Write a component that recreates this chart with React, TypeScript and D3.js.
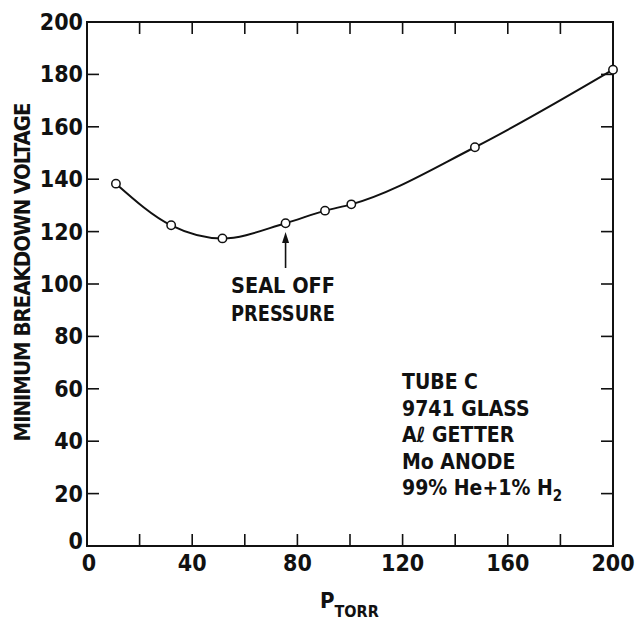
import React, { useRef, useEffect } from 'react';
import * as d3 from 'd3';

// breakdown voltage vs pressure (tube C)
const pressure = [11, 32, 51.5, 75.5, 90.5, 100.5, 147.5, 200];
const voltage = [138.3, 122.4, 117.4, 123.2, 128, 130.4, 152.2, 181.8];

const xTicks = d3.range(0, 201, 20);
const xLabels = [0, 40, 80, 120, 160, 200];
const yTicks = d3.range(0, 201, 20);

const noteLines = ['TUBE C', '9741 GLASS', 'Aℓ GETTER', 'Mo ANODE'];

const FONT = '"DejaVu Sans Condensed", "DejaVu Sans", sans-serif';

const App = () => {
  const svgRef = useRef<SVGSVGElement>(null);

  useEffect(() => {
    const svg = d3.select(svgRef.current);
    svg.selectAll('*').remove();

    const x = d3.scaleLinear().domain([0, 200]).range([87, 613]);
    const y = d3.scaleLinear().domain([0, 200]).range([546, 22]);

    // frame
    svg.append('rect')
      .attr('x', x(0)).attr('y', y(200))
      .attr('width', x(200) - x(0)).attr('height', y(0) - y(200))
      .attr('fill', 'none').attr('stroke', '#111').attr('stroke-width', 2);

    // inner ticks on all four sides
    const tk = 12;
    svg.append('g').selectAll('line.xb').data(xTicks.slice(1, -1)).join('line')
      .attr('x1', d => x(d)).attr('x2', d => x(d))
      .attr('y1', y(0)).attr('y2', y(0) - tk)
      .attr('stroke', '#111').attr('stroke-width', 1.6);
    svg.append('g').selectAll('line.xt').data(xTicks.slice(1, -1)).join('line')
      .attr('x1', d => x(d)).attr('x2', d => x(d))
      .attr('y1', y(200)).attr('y2', y(200) + tk)
      .attr('stroke', '#111').attr('stroke-width', 1.6);
    svg.append('g').selectAll('line.yl').data(yTicks.slice(1, -1)).join('line')
      .attr('x1', x(0)).attr('x2', x(0) + tk)
      .attr('y1', d => y(d)).attr('y2', d => y(d))
      .attr('stroke', '#111').attr('stroke-width', 1.6);
    svg.append('g').selectAll('line.yr').data(yTicks.slice(1, -1)).join('line')
      .attr('x1', x(200)).attr('x2', x(200) - tk)
      .attr('y1', d => y(d)).attr('y2', d => y(d))
      .attr('stroke', '#111').attr('stroke-width', 1.6);

    // tick labels
    svg.append('g').selectAll('text').data(xLabels).join('text')
      .attr('x', d => x(d) + (d === 0 ? 2 : 0)).attr('y', 571)
      .attr('text-anchor', 'middle')
      .attr('font-family', FONT).attr('font-weight', 'bold').attr('font-size', 23)
      .attr('fill', '#111')
      .text(d => d);
    svg.append('g').selectAll('text').data(yTicks).join('text')
      .attr('x', x(0) - 4).attr('y', d => y(d) + (d === 0 ? 3 : 8))
      .attr('text-anchor', 'end')
      .attr('font-family', FONT).attr('font-weight', 'bold').attr('font-size', 23)
      .attr('fill', '#111')
      .text(d => d);

    // curve
    const pts = pressure.map((p, i) => [p, voltage[i]] as [number, number]);
    const line = d3.line<[number, number]>()
      .x(d => x(d[0])).y(d => y(d[1]))
      .curve(d3.curveMonotoneX);
    svg.append('path').datum(pts)
      .attr('d', line)
      .attr('fill', 'none').attr('stroke', '#111').attr('stroke-width', 2);

    svg.append('g').selectAll('circle').data(pts).join('circle')
      .attr('cx', d => x(d[0])).attr('cy', d => y(d[1])).attr('r', 4.2)
      .attr('fill', '#fff').attr('stroke', '#111').attr('stroke-width', 1.5);

    // seal off arrow
    const ax = x(pressure[3]);
    svg.append('line')
      .attr('x1', ax).attr('x2', ax).attr('y1', 240).attr('y2', 268)
      .attr('stroke', '#111').attr('stroke-width', 1.6);
    svg.append('path')
      .attr('d', `M${ax},232 L${ax - 3.5},243 L${ax + 3.5},243 Z`)
      .attr('fill', '#111');

    const ann = svg.append('g')
      .attr('font-family', FONT).attr('font-weight', 'bold').attr('font-size', 21)
      .attr('fill', '#111');
    ann.append('text').attr('x', 231).attr('y', 293).attr('textLength', 104)
      .attr('lengthAdjust', 'spacingAndGlyphs').text('SEAL OFF');
    ann.append('text').attr('x', 231).attr('y', 321).attr('textLength', 104)
      .attr('lengthAdjust', 'spacingAndGlyphs').text('PRESSURE');

    // note block
    const note = svg.append('g')
      .attr('font-family', FONT).attr('font-weight', 'bold').attr('font-size', 21)
      .attr('fill', '#111');
    note.selectAll('text').data(noteLines).join('text')
      .attr('x', 402).attr('y', (_, i) => 389 + i * 26.6)
      .text(d => d);
    const last = note.append('text').attr('x', 402).attr('y', 495);
    last.append('tspan').text('99% He+1% H');
    last.append('tspan').attr('font-size', 15).attr('dy', 6).text('2');

    // axis titles
    svg.append('text')
      .attr('transform', 'translate(30,272) rotate(-90)')
      .attr('text-anchor', 'middle')
      .attr('font-family', FONT).attr('font-weight', 'bold').attr('font-size', 22)
      .attr('textLength', 339).attr('lengthAdjust', 'spacing')
      .attr('fill', '#111')
      .text('MINIMUM BREAKDOWN VOLTAGE');

    const xt = svg.append('text')
      .attr('x', 320).attr('y', 608)
      .attr('font-family', FONT).attr('font-weight', 'bold').attr('font-size', 22)
      .attr('fill', '#111');
    xt.append('tspan').text('P');
    xt.append('tspan').attr('font-size', 16).attr('dy', 9).text('TORR');
  }, []);

  return (
    <svg ref={svgRef} width={635} height={621}
      style={{ position: 'absolute', left: 0, top: 0, background: '#fff', display: 'block' }} />
  );
};

export default App;
